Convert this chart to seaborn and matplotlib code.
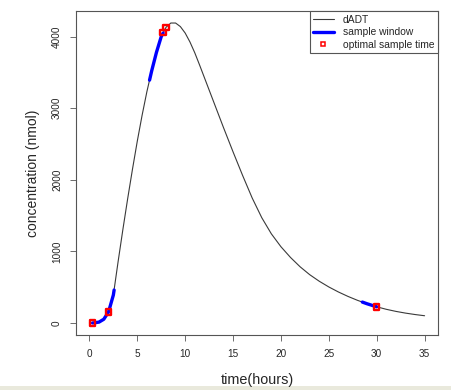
import numpy as np
import pandas as pd
import matplotlib
matplotlib.use("Agg")
import matplotlib.pyplot as plt
import seaborn as sns
from matplotlib.patches import Rectangle
from matplotlib.lines import Line2D

# dADT concentration curve
time_h = [0, 0.5, 1, 1.5, 2, 2.5, 3, 3.5, 4, 4.5, 5, 5.5, 6, 6.5, 7, 7.5, 8, 8.5,
          9, 9.5, 10, 10.5, 11, 11.5, 12, 13, 14, 15, 16, 17, 18, 19, 20, 21, 22,
          23, 24, 25, 26, 27, 28, 29, 30, 31, 32, 33, 34, 35]
conc = [0, 2, 12, 52, 155, 390, 860, 1310, 1740, 2150, 2540, 2900, 3230, 3520,
        3780, 4000, 4130, 4190, 4190, 4140, 4050, 3925, 3775, 3605, 3430, 3080,
        2730, 2390, 2060, 1745, 1470, 1245, 1065, 915, 785, 675, 583, 503, 433,
        371, 316, 268, 226, 191, 162, 138, 118, 101]

# sample windows (blue)
win_id = [1, 1, 1, 1, 1, 1, 1, 2, 2, 2, 2, 2, 3, 3, 3]
win_t = [0.33, 0.5, 1, 1.5, 2, 2.5, 2.58, 6.28, 6.5, 7, 7.5, 7.7, 28.5, 29, 30]
win_c = [0, 2, 12, 52, 155, 390, 460, 3392, 3520, 3780, 4000, 4050, 292, 268, 226]

# optimal sample times (red squares)
opt_t = [0.33, 2.0, 7.67, 7.98, 29.97]
opt_c = [0, 155, 4055, 4128, 227]

sns.set_theme(style="ticks")
plt.rcParams['font.family'] = ['Liberation Sans', 'DejaVu Sans']

fig = plt.figure(figsize=(4.52, 3.9), dpi=100)
ax = fig.add_axes([76 / 452, 55 / 390, 362 / 452, 324 / 390])

curve = pd.DataFrame({'t': time_h, 'c': conc})
wins = pd.DataFrame({'w': win_id, 't': win_t, 'c': win_c})
opt = pd.DataFrame({'t': opt_t, 'c': opt_c})

sns.lineplot(data=curve, x='t', y='c', color='#3a3a3a', lw=0.8,
             estimator=None, sort=False, ax=ax)
sns.lineplot(data=wins, x='t', y='c', units='w', color='#0000ff', lw=2.4,
             estimator=None, sort=False, ax=ax)
sns.scatterplot(data=opt, x='t', y='c', marker='s', s=16, facecolor='none',
                edgecolor='#ff0000', linewidth=1.7, ax=ax, zorder=5)

ax.set_xlim(-1.4, 36.4)
ax.set_ylim(-168, 4358)
ax.set_xticks(range(0, 36, 5))
ax.set_yticks(range(0, 4001, 1000))
ax.set_xlabel('time(hours)', fontsize=10.4, labelpad=10)
ax.set_ylabel('concentration (nmol)', fontsize=10, labelpad=9)
ax.tick_params(axis='both', labelsize=7.2, length=4, width=0.6, color='#555555', pad=6)
for lab in ax.get_yticklabels():
    lab.set_rotation(90)
    lab.set_va('center')
for s in ax.spines.values():
    s.set_visible(True)
    s.set_color('#555555')
    s.set_linewidth(0.8)

handles = [
    Line2D([], [], color='#3a3a3a', lw=0.8),
    Line2D([], [], color='#0000ff', lw=2.4),
    Line2D([], [], color='#ff0000', marker='s', ls='none', ms=3.5,
           mfc='none', mew=1.1),
]
leg = ax.legend(handles, ['dADT', 'sample window', 'optimal sample time'],
                loc='upper right', borderaxespad=0, fontsize=7.4, fancybox=False,
                frameon=True, framealpha=1, edgecolor='#555555',
                handlelength=2.0, handletextpad=0.9, borderpad=0.35,
                labelspacing=0.25)
leg.get_frame().set_linewidth(0.8)

# pale strip at the bottom of the picture
fig.patches.append(Rectangle((0, 0), 1, 4 / 390, transform=fig.transFigure,
                             facecolor='#e9e9dc', edgecolor='none', zorder=-1))

fig.savefig('out.png', dpi=100)
